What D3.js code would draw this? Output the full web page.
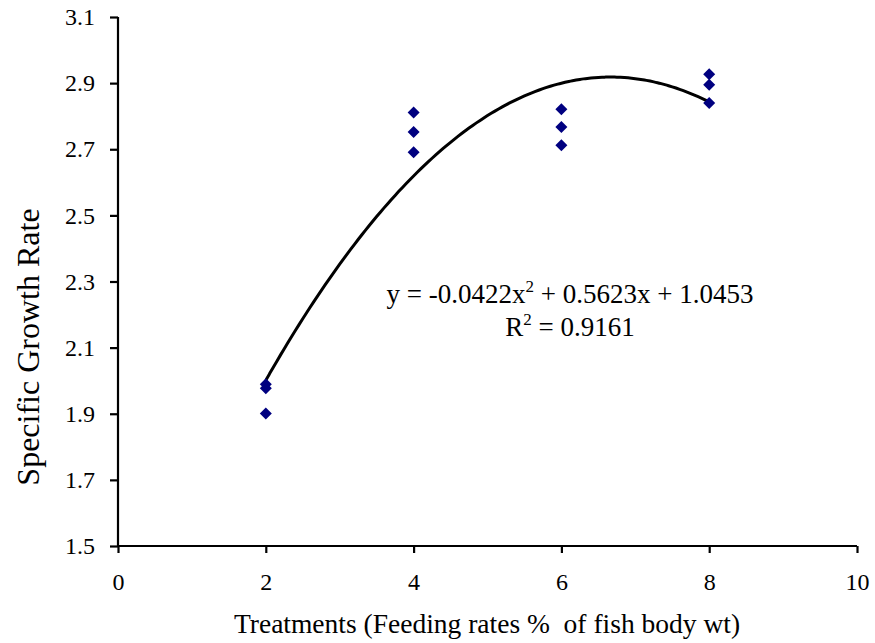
<!DOCTYPE html>
<html>
<head>
<meta charset="utf-8">
<script src="https://cdn.jsdelivr.net/npm/d3@7"></script>
<style>
  html, body { margin: 0; padding: 0; background: #fff; }
  svg text { font-family: "Liberation Serif", "Times New Roman", serif; fill: #000; white-space: pre; }
  .tick text { font-size: 24px; }
</style>
</head>
<body>
<svg id="chart" width="875" height="643"></svg>
<script>
// Data
const treatments = [2, 2, 2, 4, 4, 4, 6, 6, 6, 8, 8, 8];
const sgr = [1.989, 1.977, 1.901, 2.811, 2.752, 2.691, 2.821, 2.767, 2.712, 2.927, 2.895, 2.840];
const xTicks = [0, 2, 4, 6, 8, 10];
const yTicks = [1.5, 1.7, 1.9, 2.1, 2.3, 2.5, 2.7, 2.9, 3.1];
const trendCoef = [-0.0422, 0.5623, 1.0453]; // a, b, c as printed on the chart
const trendRange = [2, 8];
const eqText = ["y = -0.0422x", "2", " + 0.5623x + 1.0453"];
const r2Text = ["R", "2", " = 0.9161"];
const xTitle = "Treatments (Feeding rates %  of fish body wt)";
const yTitle = "Specific Growth Rate";

const svg = d3.select("#chart");
const x = d3.scaleLinear().domain([0, 10]).range([118, 857]);
const y = d3.scaleLinear().domain([1.5, 3.1]).range([546, 17]);

// Axes
const xAxis = d3.axisBottom(x).tickValues(xTicks).tickSize(7).tickPadding(20).tickFormat(d3.format("d"));
const yAxis = d3.axisLeft(y).tickValues(yTicks).tickSize(8).tickPadding(15).tickFormat(d3.format(".1f"));

const gx = svg.append("g").attr("transform", `translate(0,${y(1.5)})`).call(xAxis);
const gy = svg.append("g").attr("transform", `translate(${x(0)},0)`).call(yAxis);
[gx, gy].forEach(g => {
  g.attr("font-family", "Liberation Serif").attr("font-size", 24);
  g.select(".domain").attr("stroke", "#000").attr("stroke-width", 2.2);
  g.selectAll(".tick line").attr("stroke", "#000").attr("stroke-width", 2.2);
  g.selectAll(".tick text").attr("font-size", 24).attr("font-family", "Liberation Serif").attr("fill", "#000");
});
gx.select(".domain").attr("d", `M${x(0)},0H${x(10)}`);
gy.select(".domain").attr("d", `M0,${y(1.5)}V${y(3.1)}`);

// Trend line from the printed equation
const trendX = d3.range(trendRange[0], trendRange[1] + 0.0001, 0.05);
const line = d3.line()
  .x(d => x(d))
  .y(d => y(trendCoef[0] * d * d + trendCoef[1] * d + trendCoef[2]))
  .curve(d3.curveBasis);
svg.append("path").datum(trendX)
  .attr("d", line).attr("fill", "none").attr("stroke", "#000").attr("stroke-width", 3);

// Points (square diamonds)
svg.append("g").selectAll("path").data(treatments.map((t, i) => [t, sgr[i]]))
  .join("path")
  .attr("d", "M0,-6L6,0L0,6L-6,0Z")
  .attr("transform", d => `translate(${x(d[0])},${y(d[1])})`)
  .attr("fill", "#000080");

// Equation
const eq = svg.append("text").attr("x", 570).attr("y", 303).attr("text-anchor", "middle").style("font-size", "27px");
eq.append("tspan").text(eqText[0]);
eq.append("tspan").attr("dy", -11).style("font-size", "17px").text(eqText[1]);
eq.append("tspan").attr("dy", 11).text(eqText[2]);
const r2 = svg.append("text").attr("x", 570).attr("y", 336).attr("text-anchor", "middle").style("font-size", "27px");
r2.append("tspan").text(r2Text[0]);
r2.append("tspan").attr("dy", -11).style("font-size", "17px").text(r2Text[1]);
r2.append("tspan").attr("dy", 11).text(r2Text[2]);

// Titles
svg.append("text").attr("x", 487).attr("y", 633).attr("text-anchor", "middle").style("font-size", "27.5px").text(xTitle);
svg.append("text").attr("transform", "translate(39,347) rotate(-90)").attr("text-anchor", "middle").style("font-size", "32px").text(yTitle);
</script>
</body>
</html>
